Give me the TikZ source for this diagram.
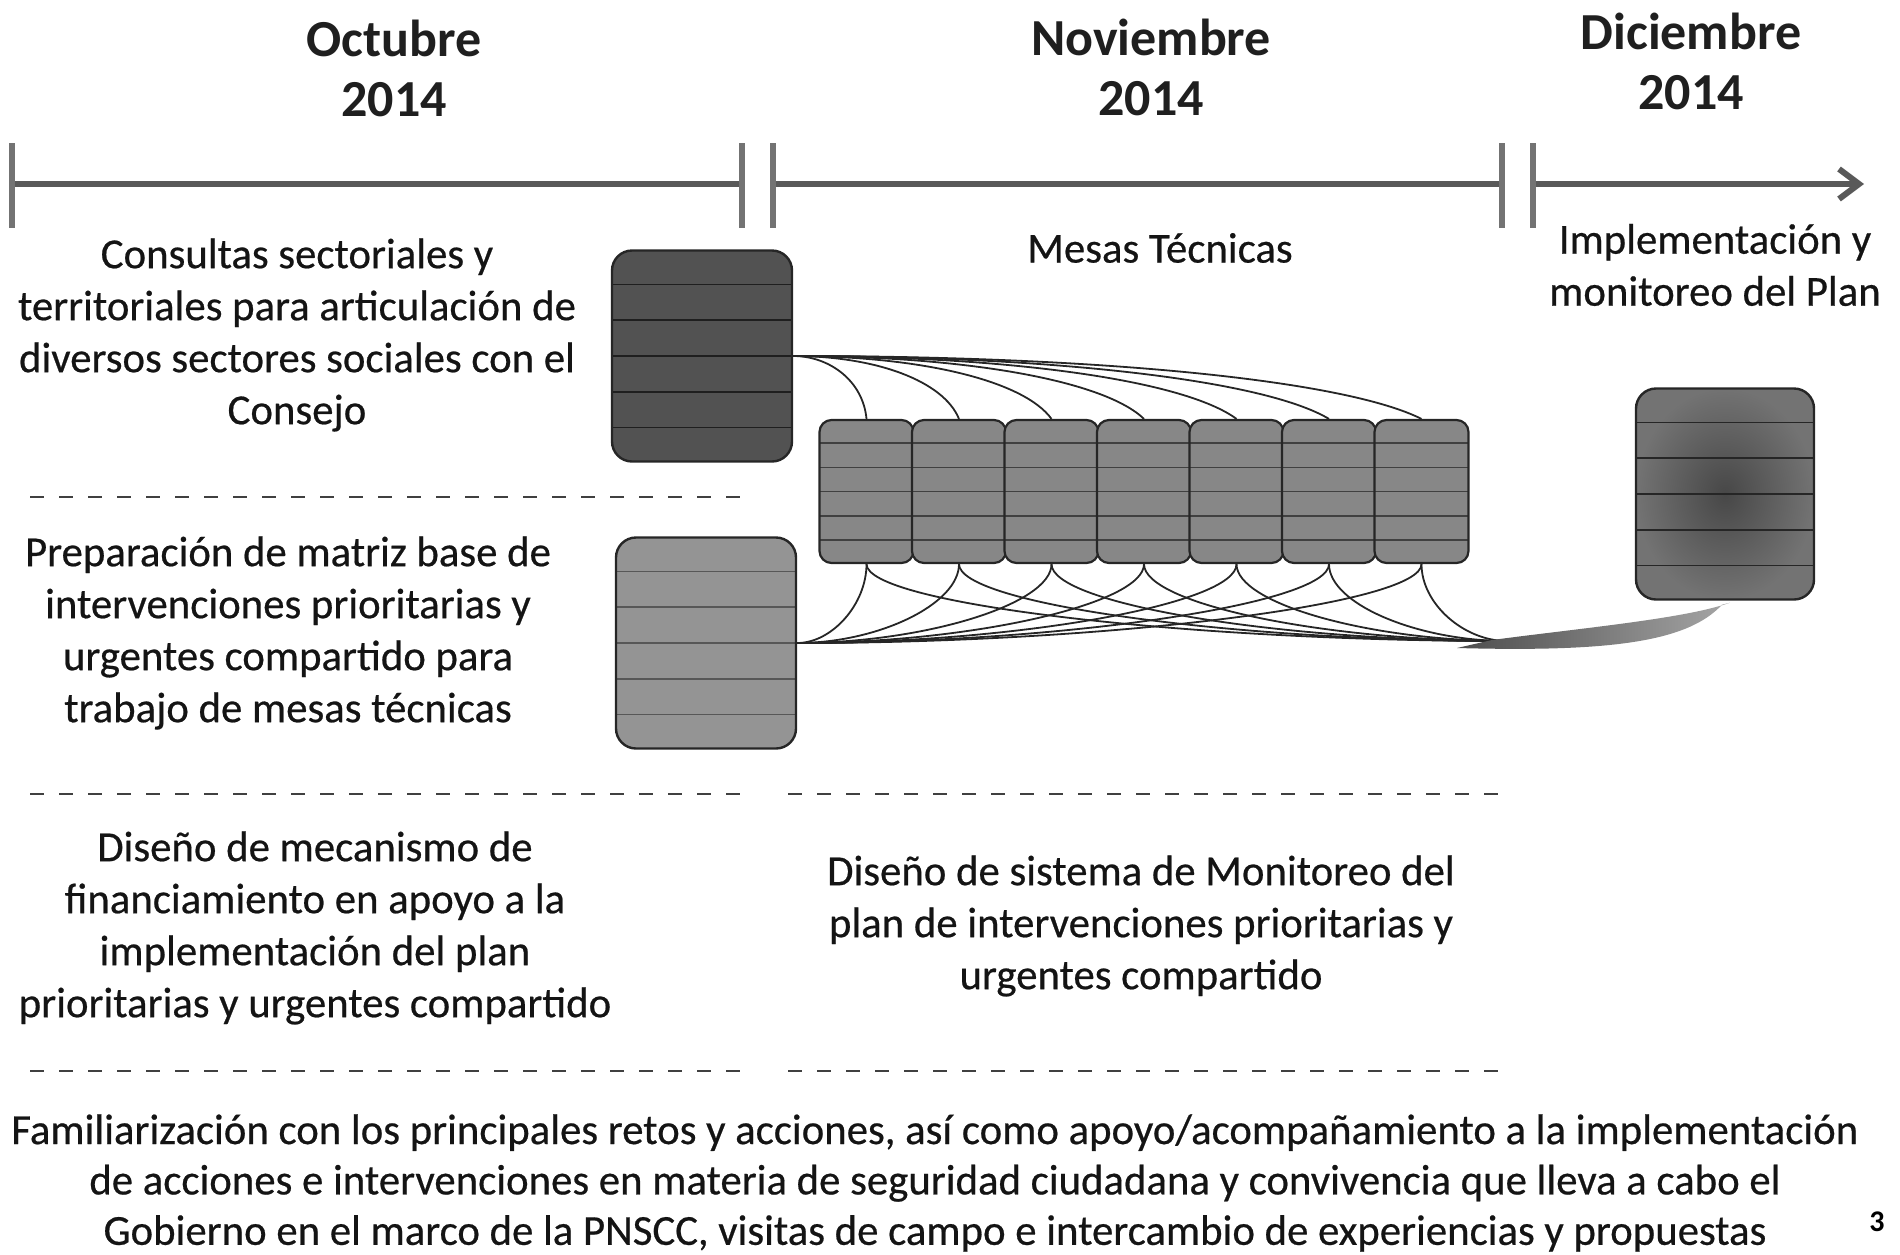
\documentclass[tikz,border=0pt]{standalone}
\usepackage{fontspec}
\setmainfont{Carlito}
\newfontfamily\bodyfont{Carlito}[FakeBold=0.5]
\usetikzlibrary{calc,arrows.meta}
\begin{document}
\begin{tikzpicture}[x=0.5pt,y=-0.5pt,
  hdr/.style={font=\bfseries\fontsize{26pt}{30pt}\selectfont, align=center, text=black!88, inner sep=0pt},
  txt/.style={font=\bodyfont\fontsize{21.4pt}{26pt}\selectfont, align=center, text=black!92, inner sep=0pt},
  pgnum/.style={font=\bfseries\fontsize{15pt}{18pt}\selectfont, inner sep=0pt},
  stripes/.style={path picture={
    \foreach \f in {0.16,0.33,0.5,0.67,0.84}{
      \draw[#1, line width=0.7pt] ($(path picture bounding box.north west)!\f!(path picture bounding box.south west)$) -- ($(path picture bounding box.north east)!\f!(path picture bounding box.south east)$);
    }}},
  bigbox/.style={rounded corners=10pt, minimum width=90pt, minimum height=105.5pt, draw=black!85, line width=1.2pt, inner sep=0pt},
  smallbox/.style={rounded corners=6pt, minimum width=47pt, minimum height=71.5pt, fill=black!47, draw=black!85, line width=1.1pt, stripes=black!75, inner sep=0pt},
  tline/.style={line width=3pt, draw=black!65},
  tick/.style={line width=3.2pt, draw=black!55},
  sep/.style={line width=1.2pt, draw=black!75, dash pattern=on 7pt off 7.5pt},
  link/.style={line width=0.9pt, draw=black!85},
  band/.style={left color=black!70, right color=black!35}
]
\useasboundingbox (0,0) rectangle (1900,1254);

% headers
\node[hdr] (oct) at (394,68) {Octubre\\2014};
\node[hdr] (nov) at (1151,67) {Noviembre\\2014};
\node[hdr] (dic) at (1691,61) {Diciembre\\2014};

% timeline
\draw[tline] (12,184) -- (742,184);
\draw[tline] (773,184) -- (1502,184);
\draw[tline, -{Straight Barb[length=10pt,width=15pt]}] (1533,184) -- (1864,184);
\foreach \xx in {12,742,773,1502,1533}{
  \draw[tick] (\xx,143) -- (\xx,228);
}

% labels
\node[txt] (t1) at (297,335) {Consultas sectoriales y\\territoriales para articulación de\\diversos sectores sociales con el\\Consejo};
\node[txt] (t2) at (288,633) {Preparación de matriz base de\\intervenciones prioritarias y\\urgentes compartido para\\trabajo de mesas técnicas};
\node[txt] (t3) at (315,928) {Diseño de mecanismo de\\financiamiento en apoyo a la\\implementación del plan\\prioritarias y urgentes compartido};
\node[txt] (t4) at (1141,926) {Diseño de sistema de Monitoreo del\\plan de intervenciones prioritarias y\\urgentes compartido};
\node[txt, font=\bodyfont\fontsize{21.4pt}{25.2pt}\selectfont] (t5) at (935,1183) {Familiarización con los principales retos y acciones, así como apoyo/acompañamiento a la implementación\\de acciones e intervenciones en materia de seguridad ciudadana y convivencia que lleva a cabo el\\Gobierno en el marco de la PNSCC, visitas de campo e intercambio de experiencias y propuestas};
\node[txt] (mesas) at (1160,248) {Mesas Técnicas};
\node[txt] (impl) at (1715,265) {Implementación y\\monitoreo del Plan};
\node[pgnum] (pg) at (1877,1222) {3};

% dashed separators
\draw[sep] (30,497) -- (751,497);
\draw[sep] (30,794) -- (751,794);
\draw[sep] (788,794) -- (1509,794);
\draw[sep] (30,1071) -- (751,1071);
\draw[sep] (788,1071) -- (1509,1071);

% boxes
\node[bigbox, fill=black!68, stripes=black!88] (A) at (702,356) {};
\node[bigbox, fill=black!42, stripes=black!66] (B) at (706,643) {};
\node[bigbox, minimum width=89pt, inner color=black!72, outer color=black!55, stripes=black!85] (C) at (1725,494) {};
\foreach \k in {1,...,7}{
  \node[smallbox] (s\k) at ({866.5+(\k-1)*92.5},491.5) {};
}
\coordinate (M) at (1507,641);

% connectors
\foreach \k in {1,...,7}{
  \pgfmathsetmacro{\dx}{866.5+(\k-1)*92.5-794}
  \pgfmathsetmacro{\ca}{0.5*\dx}
  \pgfmathsetmacro{\cb}{-0.13*\dx+6}
  \draw[link] (A.east) .. controls +(\ca,0) and +(\cb,-38) .. (s\k.north);
  \pgfmathsetmacro{\dl}{0.5*(866.5+(\k-1)*92.5-797)}
  \draw[link] (s\k.south) .. controls +(0,40) and +(\dl,0) .. (B.east);
  \pgfmathsetmacro{\dr}{-0.5*(1507-(866.5+(\k-1)*92.5))}
  \draw[link] (s\k.south) .. controls +(0,40) and +(\dr,0) .. (M);
}
\shade[band] ($(M)+(-50,7)$) .. controls +(150,4) and +(-35,38) .. ($(C.south)+(-3,4)$)
  -- ($(C.south)+(5,2)$) .. controls +(-45,16) and +(90,-12) .. ($(M)+(-15,-1)$) -- cycle;
\end{tikzpicture}
\end{document}
